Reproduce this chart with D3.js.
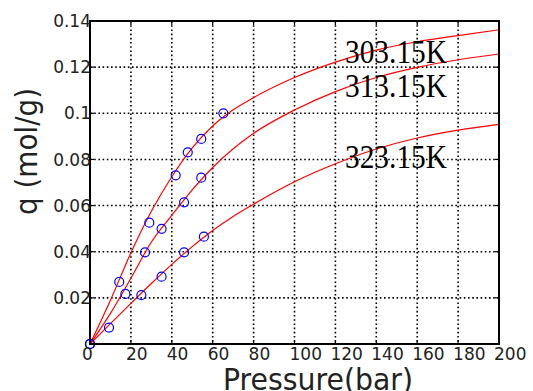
<!DOCTYPE html>
<html>
<head>
<meta charset="utf-8">
<script src="https://d3js.org/d3.v7.min.js"></script>
<style>
  body { margin: 0; background: #fff; }
  svg { display: block; }
</style>
</head>
<body>
<script>
"use strict";

// tick values
var xTicks = [0, 20, 40, 60, 80, 100, 120, 140, 160, 180, 200];
var yTicks = [0.02, 0.04, 0.06, 0.08, 0.1, 0.12, 0.14];
var yTickLabels = ["0.02", "0.04", "0.06", "0.08", "0.1", "0.12", "0.14"];

// fitted curves, pressure (bar) and q (mol/g)
var curveP303 = [0, 10, 20, 30, 40, 50, 60, 70, 80, 100, 120, 140, 160, 180, 200];
var curveQ303 = [0, 0.019, 0.0395, 0.0575, 0.0725, 0.085, 0.0945, 0.1015, 0.1068, 0.1155, 0.1222, 0.1274, 0.131, 0.1337, 0.1362];
var curveP313 = [0, 10, 20, 30, 40, 50, 60, 80, 100, 120, 140, 160, 180, 200];
var curveQ313 = [0, 0.0133, 0.0285, 0.0442, 0.0558, 0.0668, 0.0765, 0.0913, 0.1014, 0.1094, 0.1155, 0.1199, 0.1232, 0.1257];
var curveP323 = [0, 10, 20, 30, 40, 50, 60, 70, 80, 100, 120, 140, 160, 180, 200];
var curveQ323 = [0, 0.0088, 0.0176, 0.0262, 0.0345, 0.0422, 0.0492, 0.0553, 0.0606, 0.0703, 0.0781, 0.0845, 0.0893, 0.0927, 0.0952];

// measured points
var dataP303 = [0, 14.3, 29, 41.9, 47.8, 54.4, 65.2];
var dataQ303 = [0, 0.0269, 0.0526, 0.0731, 0.0831, 0.0889, 0.1];
var dataP313 = [0, 17.3, 26.9, 35, 46, 54.4];
var dataQ313 = [0, 0.0217, 0.0397, 0.0499, 0.0614, 0.0721];
var dataP323 = [0, 9.3, 25.1, 35, 46, 55.7];
var dataQ323 = [0, 0.0071, 0.0212, 0.0292, 0.0397, 0.0465];

var seriesNames = ["303.15K", "313.15K", "323.15K"];

var width = 533,
    height = 391,
    margin = {top: 21, right: 34, bottom: 47, left: 90},
    plotW = width - margin.left - margin.right,
    plotH = height - margin.top - margin.bottom;

var x = d3.scaleLinear().domain([0, 200]).range([0, plotW]);
var y = d3.scaleLinear().domain([0, 0.14]).range([plotH, 0]);

var svg = d3.select("body").append("svg")
    .attr("width", width)
    .attr("height", height);

var g = svg.append("g")
    .attr("transform", "translate(" + margin.left + "," + margin.top + ")");

// dotted grid
g.selectAll(".vgrid")
    .data(xTicks.slice(1, -1))
  .enter().append("line")
    .attr("x1", function(d) { return x(d); })
    .attr("x2", function(d) { return x(d); })
    .attr("y1", 0)
    .attr("y2", plotH)
    .attr("stroke", "#000")
    .attr("stroke-width", 1.6)
    .attr("stroke-dasharray", "1.6,2.6");

g.selectAll(".hgrid")
    .data(yTicks.slice(0, -1))
  .enter().append("line")
    .attr("x1", 0)
    .attr("x2", plotW)
    .attr("y1", function(d) { return y(d); })
    .attr("y2", function(d) { return y(d); })
    .attr("stroke", "#000")
    .attr("stroke-width", 1.6)
    .attr("stroke-dasharray", "1.6,2.6");

// small inward ticks on all four sides
var tickLen = 4;
xTicks.forEach(function(t) {
  g.append("line").attr("x1", x(t)).attr("x2", x(t)).attr("y1", plotH).attr("y2", plotH - tickLen)
      .attr("stroke", "#000").attr("stroke-width", 1.2);
  g.append("line").attr("x1", x(t)).attr("x2", x(t)).attr("y1", 0).attr("y2", tickLen)
      .attr("stroke", "#000").attr("stroke-width", 1.2);
});
yTicks.forEach(function(t) {
  g.append("line").attr("x1", 0).attr("x2", tickLen).attr("y1", y(t)).attr("y2", y(t))
      .attr("stroke", "#000").attr("stroke-width", 1.2);
  g.append("line").attr("x1", plotW).attr("x2", plotW - tickLen).attr("y1", y(t)).attr("y2", y(t))
      .attr("stroke", "#000").attr("stroke-width", 1.2);
});

// curves
var line = d3.line()
    .x(function(d) { return x(d[0]); })
    .y(function(d) { return y(d[1]); })
    .curve(d3.curveMonotoneX);

var curves = [
  d3.zip(curveP303, curveQ303),
  d3.zip(curveP313, curveQ313),
  d3.zip(curveP323, curveQ323)
];

g.selectAll(".fit")
    .data(curves)
  .enter().append("path")
    .attr("d", line)
    .attr("fill", "none")
    .attr("stroke", "#ff0000")
    .attr("stroke-width", 1.2);

// circles
var points = [].concat(
  d3.zip(dataP303, dataQ303),
  d3.zip(dataP313, dataQ313),
  d3.zip(dataP323, dataQ323)
);

g.selectAll(".pt")
    .data(points)
  .enter().append("circle")
    .attr("cx", function(d) { return x(d[0]); })
    .attr("cy", function(d) { return y(d[1]); })
    .attr("r", 4.5)
    .attr("fill", "none")
    .attr("stroke", "#0000ff")
    .attr("stroke-width", 1.2);

// frame
g.append("rect")
    .attr("width", plotW)
    .attr("height", plotH)
    .attr("fill", "none")
    .attr("stroke", "#000")
    .attr("stroke-width", 2);

// tick labels
var tickFont = "'DejaVu Sans', sans-serif";

g.selectAll(".xlab")
    .data(xTicks)
  .enter().append("text")
    .attr("x", function(d) { return x(d) - (d === 0 ? 8 : 5); })
    .attr("y", plotH + 16)
    .attr("font-family", tickFont)
    .attr("font-size", 17)
    .attr("fill", "#222")
    .text(function(d) { return d; });

g.selectAll(".ylab")
    .data(yTicks)
  .enter().append("text")
    .attr("x", 1)
    .attr("y", function(d) { return y(d); })
    .attr("dy", "0.36em")
    .attr("text-anchor", "end")
    .attr("font-family", tickFont)
    .attr("font-size", 17)
    .attr("fill", "#222")
    .text(function(d, i) { return yTickLabels[i]; });

// axis titles
svg.append("text")
    .attr("x", 223)
    .attr("y", 390)
    .attr("font-family", tickFont)
    .attr("font-size", 30)
    .attr("textLength", 190)
    .attr("lengthAdjust", "spacingAndGlyphs")
    .attr("fill", "#222")
    .text("Pressure(bar)");

svg.append("text")
    .attr("transform", "translate(37,215) rotate(-90)")
    .attr("font-family", tickFont)
    .attr("font-size", 30)
    .attr("textLength", 127)
    .attr("lengthAdjust", "spacingAndGlyphs")
    .attr("fill", "#222")
    .text("q (mol/g)");

// temperature labels
var labelY = [63, 97, 168];
svg.selectAll(".tlab")
    .data(seriesNames)
  .enter().append("text")
    .attr("x", 345)
    .attr("y", function(d, i) { return labelY[i]; })
    .attr("font-family", "'Liberation Serif', 'Times New Roman', serif")
    .attr("font-size", 33)
    .attr("textLength", 102)
    .attr("lengthAdjust", "spacingAndGlyphs")
    .attr("fill", "#000")
    .text(function(d) { return d; });
</script>
</body>
</html>
